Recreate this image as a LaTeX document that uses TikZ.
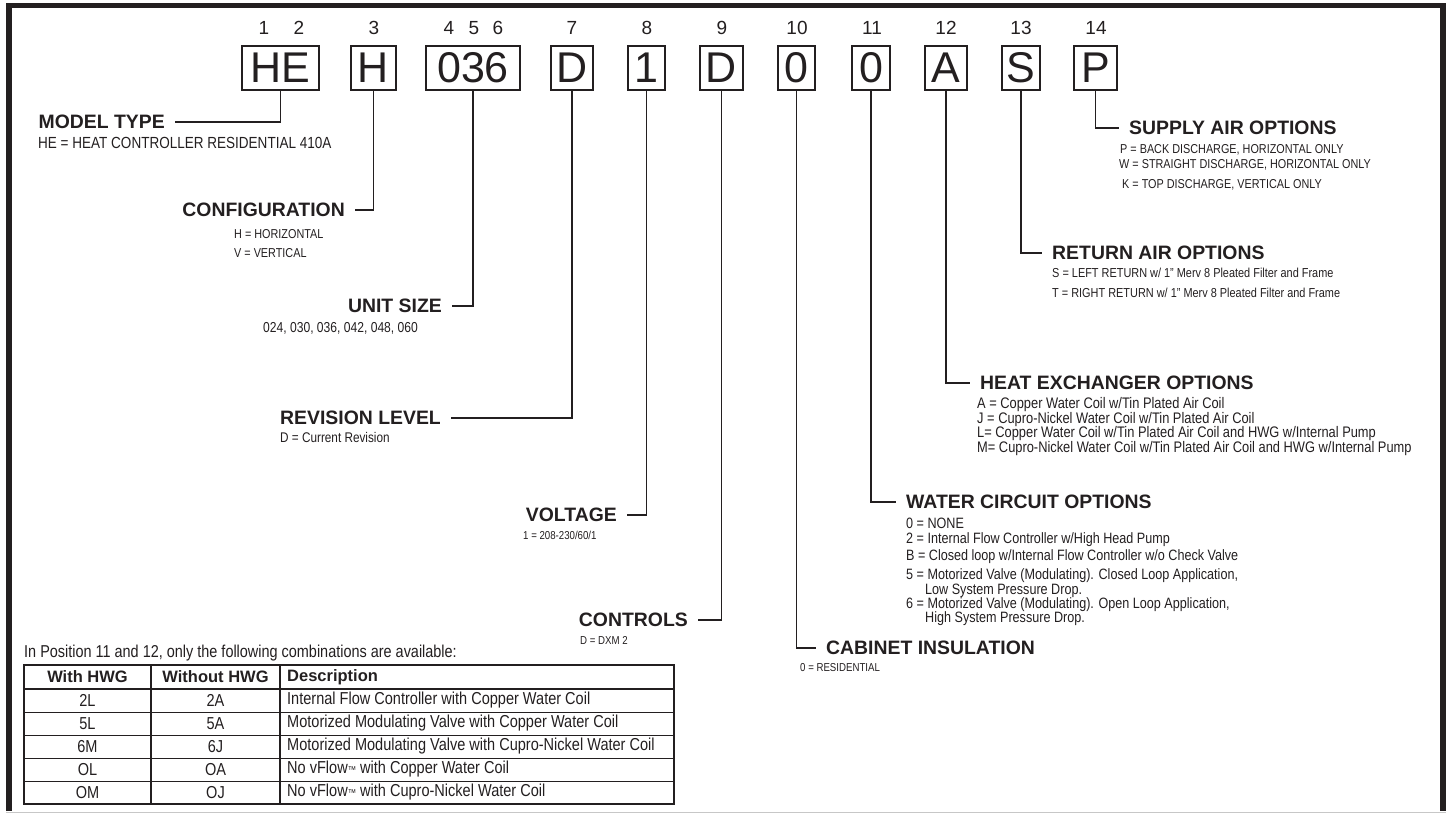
\documentclass[tikz,border=0pt]{standalone}
\usepackage{fontspec}
\setmainfont{Liberation Sans}
\newfontfamily\nf[FakeStretch=0.84]{Liberation Sans}
\usetikzlibrary{positioning}
\definecolor{ink}{HTML}{231F20}
\newcommand\fsz[1]{\fontsize{#1}{#1}\selectfont}
\newcommand\tmk{{\fsz{10}™}}

\begin{document}
\begin{tikzpicture}[x=1pt,y=-1pt,color=ink,
  cbox/.style={draw=ink,line width=1.6pt,font=\fsz{43},inner sep=0pt,minimum height=44pt},
  posn/.style={font=\fsz{19},inner sep=0pt},
  hdg/.style={font=\bfseries\fsz{19.4},inner xsep=10pt,inner ysep=0pt},
  txt/.style={anchor=west,inner sep=0pt,font=\nf\fsz{#1}},
  cell/.style={inner sep=0pt,font=\nf\fsz{17.3}},
  thd/.style={inner sep=0pt,font=\bfseries\fsz{16.5}},
  hook/.style={draw=ink,line width=1.5pt}]
\useasboundingbox (0,0) rectangle (1449,814);
% frame
\draw[line width=5.5pt] (9,811) -- (9,5.5) -- (1443,5.5) -- (1443,811);
\draw[black!22,line width=1pt] (6,812.8) -- (1446,812.8);
% position numbers and code boxes
\foreach \i/\x in {1/264,2/299,3/374,4/449,5/474,6/498,7/572,8/647,9/722,10/797,11/872,12/946,13/1021,14/1096}
  \node[posn] (n\i) at (\x,28) {\i};
\foreach \nm/\x/\w/\s in {p1/280.5/77/HE,p3/373.5/45/H,p4/473/94/036,p7/572/42/D,p8/646.5/37/1,
  p9/721.5/43/D,p10/796.5/37/0,p11/871/38/0,p12/946/42/A,p13/1021/38/S,p14/1095.5/43/P}
  \node[cbox,minimum width=\w pt] (\nm) at (\x,68) {\s};
% left side, top to bottom
\node[hdg,anchor=east] (model) at (175,122) {MODEL TYPE};
\node[txt=16.1] (modelA) at (38,143) {HE = HEAT CONTROLLER RESIDENTIAL 410A};
\node[hdg,anchor=east] (config) at (355,210) {CONFIGURATION};
\node[txt=12.9] (configH) at (234,234) {H = HORIZONTAL};
\node[txt=12.9] (configV) at (234,253) {V = VERTICAL};
\node[hdg,anchor=east] (size) at (452,306) {UNIT SIZE};
\node[txt=14.4] (sizeA) at (263,328) {024, 030, 036, 042, 048, 060};
\node[hdg,anchor=east] (revision) at (451,418) {REVISION LEVEL};
\node[txt=14] (revisionA) at (280,437) {D = Current Revision};
\node[hdg,anchor=east] (voltage) at (627,515) {VOLTAGE};
\node[txt=11.5] (voltageA) at (523,535) {1 = 208-230/60/1};
\node[hdg,anchor=east] (controls) at (698,620) {CONTROLS};
\node[txt=11.5] (controlsA) at (580,640) {D = DXM 2};
\draw[hook] (p1.south) |- (model.east);
\draw[hook] (p3.south) |- (config.east);
\draw[hook] (p4.south) |- (size.east);
\draw[hook] (p7.south) |- (revision.east);
\draw[hook] (p8.south) |- (voltage.east);
\draw[hook] (p9.south) |- (controls.east);
% right side, bottom to top
\node[hdg,anchor=west] (cabinet) at (816,648) {CABINET INSULATION};
\node[txt=11.5] (cabinetA) at (800,668) {0 = RESIDENTIAL};
\node[hdg,anchor=west] (water) at (896,502) {WATER CIRCUIT OPTIONS};
\foreach \y/\x/\t [count=\k] in {523/906/{0 = NONE},540/906/{2 = Internal Flow Controller w/High Head Pump},
  557/906/{B = Closed loop w/Internal Flow Controller w/o Check Valve},
  576/906/{5 = Motorized Valve (Modulating). Closed Loop Application,},590.5/925/{Low System Pressure Drop.},
  604.5/906/{6 = Motorized Valve (Modulating). Open Loop Application,},619/925/{High System Pressure Drop.}}
  \node[txt=15] (water\k) at (\x,\y) {\t};
\node[hdg,anchor=west] (heatx) at (970,383) {HEAT EXCHANGER OPTIONS};
\foreach \y/\t [count=\k] in {405/{A = Copper Water Coil w/Tin Plated Air Coil},
  419.5/{J = Cupro-Nickel Water Coil w/Tin Plated Air Coil},
  434/{L= Copper Water Coil w/Tin Plated Air Coil and HWG w/Internal Pump},
  448.5/{M= Cupro-Nickel Water Coil w/Tin Plated Air Coil and HWG w/Internal Pump}}
  \node[txt=15.3] (heatx\k) at (977,\y) {\t};
\node[hdg,anchor=west] (retair) at (1042,253) {RETURN AIR OPTIONS};
\node[txt=13] (retairS) at (1052,273) {S = LEFT RETURN w/ 1” Merv 8 Pleated Filter and Frame};
\node[txt=13] (retairT) at (1052,293) {T = RIGHT RETURN w/ 1” Merv 8 Pleated Filter and Frame};
\node[hdg,anchor=west] (supair) at (1119,128) {SUPPLY AIR OPTIONS};
\node[txt=12.9] (supairP) at (1120,150) {P = BACK DISCHARGE, HORIZONTAL ONLY};
\node[txt=12.9] (supairW) at (1119,165) {W = STRAIGHT DISCHARGE, HORIZONTAL ONLY};
\node[txt=12.9] (supairK) at (1122,185) {K = TOP DISCHARGE, VERTICAL ONLY};
\draw[hook] (p10.south) |- (cabinet.west);
\draw[hook] (p11.south) |- (water.west);
\draw[hook] (p12.south) |- (heatx.west);
\draw[hook] (p13.south) |- (retair.west);
\draw[hook] (p14.south) |- (supair.west);
% combination table
\node[txt=17.2] (note) at (24,653) {In Position 11 and 12, only the following combinations are available:};
\draw[line width=1.8pt] (24,665) rectangle (674,804);
\draw[line width=1.8pt] (24,689) -- (674,689);
\foreach \y in {712,735,758,781} \draw[line width=1pt] (24,\y) -- (674,\y);
\foreach \x in {151,280} \draw[line width=1.2pt] (\x,665) -- (\x,804);
\node[thd] (colA) at (87.5,677) {With HWG};
\node[thd] (colB) at (215.5,677) {Without HWG};
\node[thd,anchor=west] (colC) at (287,677) {Description};
\foreach \y/\a/\b/\d [count=\r] in {700.5/2L/2A/{Internal Flow Controller with Copper Water Coil},
  723.5/5L/5A/{Motorized Modulating Valve with Copper Water Coil},
  746.5/6M/6J/{Motorized Modulating Valve with Cupro-Nickel Water Coil},
  769.5/OL/OA/{No vFlow\tmk{} with Copper Water Coil},
  792.5/OM/OJ/{No vFlow\tmk{} with Cupro-Nickel Water Coil}}
{
  \node[cell] (with\r) at (87.5,\y) {\a};
  \node[cell] (wout\r) at (215.5,\y) {\b};
  \node[cell,anchor=west] (desc\r) at (287,\y) {\d};
}
\end{tikzpicture}
\end{document}
